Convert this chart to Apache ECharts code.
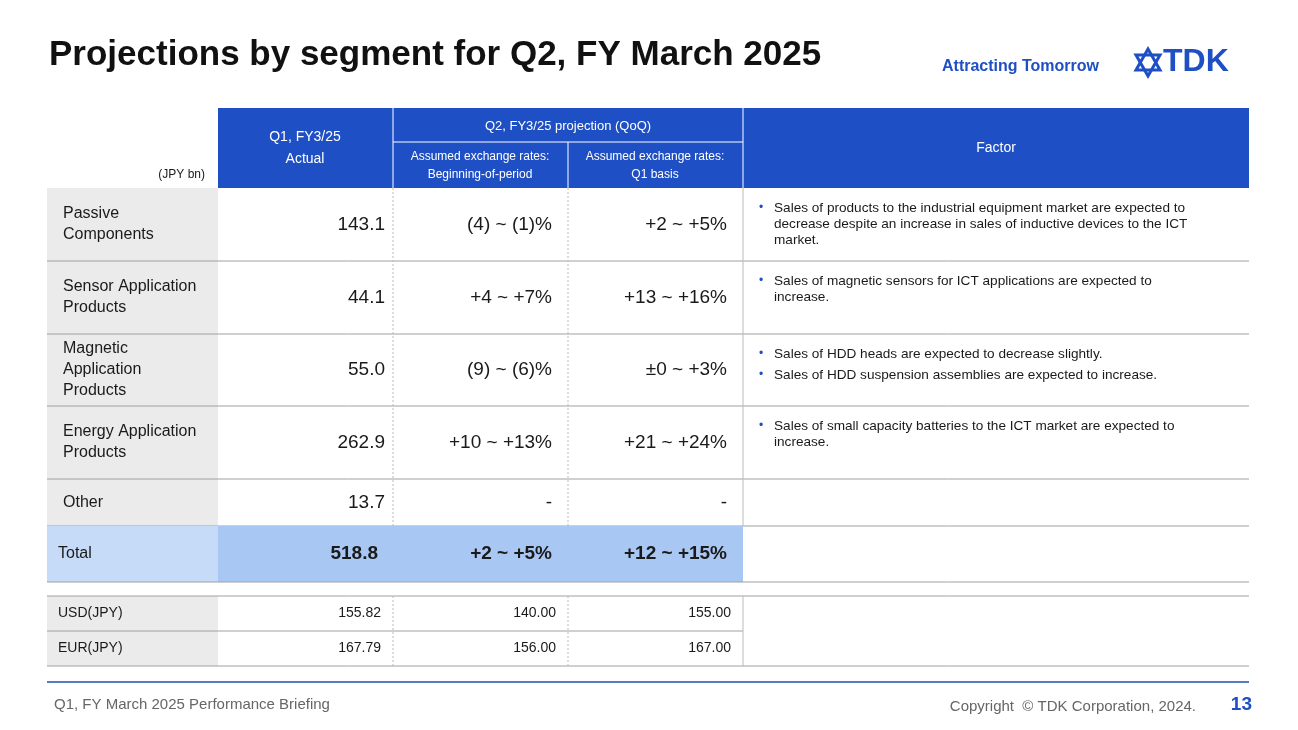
<!DOCTYPE html>
<html><head><meta charset="utf-8">
<script src="https://cdn.jsdelivr.net/npm/echarts@6/dist/echarts.min.js"></script>
<style>html,body{margin:0;padding:0;background:#fff}#c{width:1298px;height:730px}</style>
</head><body><div id="c"></div>
<script>
const segments = [["Passive","Components"],["Sensor Application","Products"],["Magnetic","Application","Products"],["Energy Application","Products"],["Other"]];
const q1Actual = ["143.1","44.1","55.0","262.9","13.7"];
const projBeginning = ["(4) ~ (1)%","+4 ~ +7%","(9) ~ (6)%","+10 ~ +13%","-"];
const projQ1Basis = ["+2 ~ +5%","+13 ~ +16%","±0 ~ +3%","+21 ~ +24%","-"];
const factors = [
 [["Sales of products to the industrial equipment market are expected to","decrease despite an increase in sales of inductive devices to the ICT","market."]],
 [["Sales of magnetic sensors for ICT applications are expected to","increase."]],
 [["Sales of HDD heads are expected to decrease slightly."],["Sales of HDD suspension assemblies are expected to increase."]],
 [["Sales of small capacity batteries to the ICT market are expected to","increase."]],
 []
];
const total = ["Total","518.8","+2 ~ +5%","+12 ~ +15%"];
const fxLabels = ["USD(JPY)","EUR(JPY)"];
const fxActual = ["155.82","167.79"];
const fxBeginning = ["140.00","156.00"];
const fxQ1 = ["155.00","167.00"];

const BLUE='#1f4fc4', DARK='#1a1a1a', LINE='#b0b0b0';
const rowY=[188,261,334,406,479,526];
const fxY=[596,631,666];
const g=[];
const rect=(x,y,w,h,fill)=>g.push({type:'rect',shape:{x,y,width:w,height:h},style:{fill}});
const hl=(x1,x2,y,c,lw)=>g.push({type:'line',shape:{x1,y1:y,x2,y2:y},style:{stroke:c||LINE,lineWidth:lw||1}});
const vl=(x,y1,y2,c,dash)=>g.push({type:'line',shape:{x1:x,y1,x2:x,y2},style:{stroke:c||'#c8c8c8',lineWidth:1,lineDash:dash?[2,2]:null}});
const txt=(x,y,t,o)=>g.push({type:'text',x,y,style:Object.assign({text:t,fill:DARK,font:'15px Arial, "Liberation Sans"',textVerticalAlign:'middle'},o||{})});

txt(49,55,'Projections by segment for Q2, FY March 2025',{font:'bold 35px Arial, "Liberation Sans"',fill:'#111'});
txt(942,67,'Attracting Tomorrow',{font:'bold 16px Arial, "Liberation Sans"',fill:BLUE});
g.push({type:'polygon',shape:{points:[[1148,49],[1160,70],[1136,70]]},style:{fill:'none',stroke:BLUE,lineWidth:3}});
g.push({type:'polygon',shape:{points:[[1148,76],[1160,55],[1136,55]]},style:{fill:'none',stroke:BLUE,lineWidth:3}});
txt(1163,62,'TDK',{font:'bold 32px Arial, "Liberation Sans"',fill:BLUE});

rect(218,108,1031,80,BLUE);
hl(393,743,142,'#ffffff',1);
vl(393,108,188,'#ffffff');vl(568,142,188,'#ffffff');vl(743,108,188,'#ffffff');
const W='#ffffff';
txt(305,137,'Q1, FY3/25',{fill:W,font:'14px Arial',textAlign:'center'});
txt(305,159,'Actual',{fill:W,font:'14px Arial',textAlign:'center'});
txt(568,126,'Q2, FY3/25 projection (QoQ)',{fill:W,font:'13px Arial',textAlign:'center'});
txt(480,157,'Assumed exchange rates:',{fill:W,font:'12px Arial',textAlign:'center'});
txt(480,175,'Beginning-of-period',{fill:W,font:'12px Arial',textAlign:'center'});
txt(655,157,'Assumed exchange rates:',{fill:W,font:'12px Arial',textAlign:'center'});
txt(655,175,'Q1 basis',{fill:W,font:'12px Arial',textAlign:'center'});
txt(996,148,'Factor',{fill:W,font:'14px Arial',textAlign:'center'});
txt(205,175,'(JPY bn)',{font:'12px Arial',textAlign:'right'});

segments.forEach((s,i)=>{
  const y0=rowY[i],y1=rowY[i+1],cy=(y0+y1)/2;
  rect(47,y0,171,y1-y0,'#ebebeb');
  const n=s.length;
  s.forEach((l,k)=>txt(63,cy+(k-(n-1)/2)*21,l,{font:'16px Arial'}));
  txt(385,cy,q1Actual[i],{font:'19px Arial',textAlign:'right'});
  txt(552,cy,projBeginning[i],{font:'19px Arial',textAlign:'right'});
  txt(727,cy,projQ1Basis[i],{font:'19px Arial',textAlign:'right'});
  let fy=y0+20;
  factors[i].forEach(b=>{
    txt(759,fy,'•',{font:'12px Arial',fill:BLUE});
    b.forEach((l,k)=>txt(774,fy+k*16,l,{font:'13.6px Arial'}));
    fy+=b.length*16+5;
  });
  if(i>0) hl(47,1249,y0,'#a0a0a0');
});
hl(47,1249,526,'#a0a0a0');
rect(47,526,171,56,'#c6dbf7');
rect(218,526,525,56,'#a8c8f3');
txt(58,554,total[0],{font:'16px Arial'});
txt(378,554,total[1],{font:'bold 19px Arial',textAlign:'right'});
txt(552,554,total[2],{font:'bold 19px Arial',textAlign:'right'});
txt(727,554,total[3],{font:'bold 19px Arial',textAlign:'right'});
hl(47,1249,582,'#a0a0a0');
fxLabels.forEach((l,i)=>{
  const y0=fxY[i],y1=fxY[i+1],cy=(y0+y1)/2;
  rect(47,y0,171,y1-y0,'#ebebeb');
  txt(58,cy,l,{font:'14px Arial'});
  txt(381,cy,fxActual[i],{font:'14px Arial',textAlign:'right'});
  txt(556,cy,fxBeginning[i],{font:'14px Arial',textAlign:'right'});
  txt(731,cy,fxQ1[i],{font:'14px Arial',textAlign:'right'});
});
hl(47,1249,596,'#a0a0a0');hl(47,743,631,'#a0a0a0');hl(47,1249,666,'#a0a0a0');
vl(393,188,526,'#bbb',true);vl(568,188,526,'#bbb',true);vl(743,188,526,'#bbb');
vl(393,596,666,'#bbb',true);vl(568,596,666,'#bbb',true);vl(743,596,666,'#bbb');
hl(47,1249,682,'#2050b0',1.5);
txt(54,705,'Q1, FY March 2025 Performance Briefing',{font:'15px Arial',fill:'#666'});
txt(1196,707,'Copyright  © TDK Corporation, 2024.',{font:'15px Arial',fill:'#666',textAlign:'right'});
txt(1252,705,'13',{font:'bold 19px Arial',fill:BLUE,textAlign:'right'});

const chart=echarts.init(document.getElementById('c'));
chart.setOption({animation:false,graphic:{elements:g}});
</script></body></html>
